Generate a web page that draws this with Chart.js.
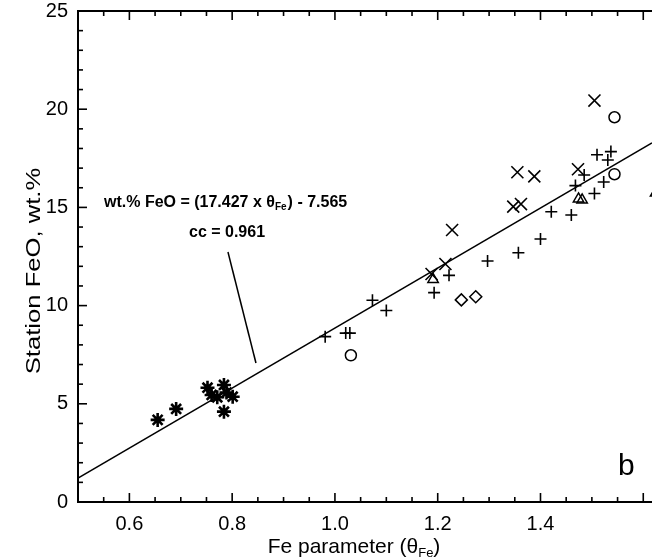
<!DOCTYPE html>
<html>
<head>
<meta charset="utf-8">
<script src="https://cdn.jsdelivr.net/npm/chart.js@4.4.1/dist/chart.umd.min.js"></script>
<style>
html, body { margin: 0; padding: 0; background: #fff; overflow: hidden; }
canvas { display: block; }
</style>
</head>
<body>
<canvas id="chart" width="652" height="559"></canvas>
<script>
// station FeO vs Fe parameter

const xTicks = [0.6, 0.8, 1.0, 1.2, 1.4];
const yTicks = [0, 5, 10, 15, 20, 25];

// "+" stations
const plusX = [0.981, 1.021, 1.029, 1.073, 1.100, 1.193, 1.222, 1.297, 1.357, 1.400, 1.421, 1.460, 1.468, 1.485, 1.505, 1.510, 1.523, 1.531, 1.537];
const plusY = [8.42, 8.60, 8.60, 10.27, 9.75, 10.66, 11.54, 12.27, 12.69, 13.39, 14.78, 14.61, 16.11, 16.65, 15.71, 17.68, 16.29, 17.41, 17.84];

// "x" stations
const crossX = [1.228, 1.188, 1.215, 1.347, 1.362, 1.355, 1.388, 1.473, 1.505];
const crossY = [13.85, 11.61, 12.12, 15.04, 15.17, 16.79, 16.58, 16.94, 20.44];

// open circles
const circleX = [1.031, 1.544, 1.544];
const circleY = [7.47, 19.59, 16.69];

// open diamonds
const diamondX = [1.246, 1.274];
const diamondY = [10.29, 10.45];

// open triangles
const triX = [1.191, 1.474, 1.481, 1.624];
const triY = [11.33, 15.43, 15.38, 15.73];

// asterisks
const starX = [0.655, 0.691, 0.752, 0.760, 0.771, 0.784, 0.789, 0.801, 0.784];
const starY = [4.18, 4.74, 5.82, 5.45, 5.33, 5.96, 5.57, 5.36, 4.60];

// fitted line as drawn (end points at the plot edges)
const fitX = [0.5, 1.617];
const fitY = [1.22, 18.28];

const xMin = 0.5, xMax = 1.617;
const yMin = 0, yMax = 25;

const FONT = '"Liberation Sans", Arial, Helvetica, sans-serif';

function pts(xs, ys) {
    return xs.map((v, i) => ({x: v, y: ys[i]}));
}

function markers(label, xs, ys, style, radius, width) {
    return {
        label: label,
        data: pts(xs, ys),
        pointStyle: style,
        pointRadius: radius,
        pointHoverRadius: radius,
        pointBorderWidth: width,
        borderColor: '#000',
        backgroundColor: 'rgba(0,0,0,0)',
        showLine: false
    };
}

// inward ticks, top frame line, axis titles and the note on the fit
const decorations = {
    id: 'decorations',
    afterDraw(chart) {
        const ctx = chart.ctx;
        const a = chart.chartArea;
        const x = chart.scales.x;
        const y = chart.scales.y;

        function seg(x1, y1, x2, y2) {
            ctx.beginPath();
            ctx.moveTo(x1, y1);
            ctx.lineTo(x2, y2);
            ctx.stroke();
        }

        ctx.save();
        ctx.strokeStyle = '#000';
        ctx.lineWidth = 2;
        seg(a.left - 1, a.top, a.right, a.top);

        ctx.lineWidth = 1.6;
        for (let i = 1; i < 25; i++) {
            const py = y.getPixelForValue(i);
            seg(a.left, py, a.left + (i % 5 === 0 ? 9 : 5), py);
        }
        for (let i = 11; i <= 32; i++) {
            const px = x.getPixelForValue(i * 0.05);
            const len = i % 4 === 0 ? 9 : 5;
            seg(px, a.bottom, px, a.bottom - len);
            seg(px, a.top, px, a.top + len);
        }

        // fit annotation
        ctx.fillStyle = '#000';
        ctx.textBaseline = 'middle';
        ctx.textAlign = 'left';
        let tx = x.getPixelForValue(0.5506);
        const ty = y.getPixelForValue(15.22);
        ctx.font = 'bold 16px ' + FONT;
        ctx.fillText('wt.% FeO = (17.427 x \u03b8', tx, ty);
        tx += ctx.measureText('wt.% FeO = (17.427 x \u03b8').width;
        ctx.font = 'bold 10px ' + FONT;
        ctx.fillText('Fe', tx, ty + 4);
        tx += ctx.measureText('Fe').width + 1;
        ctx.font = 'bold 16px ' + FONT;
        ctx.fillText(') - 7.565', tx, ty);

        ctx.fillText('cc = 0.961', x.getPixelForValue(0.716), y.getPixelForValue(13.7));

        ctx.lineWidth = 1.5;
        seg(x.getPixelForValue(0.7918), y.getPixelForValue(12.73),
            x.getPixelForValue(0.8463), y.getPixelForValue(7.08));

        // panel letter
        ctx.font = '30px ' + FONT;
        ctx.textBaseline = 'alphabetic';
        ctx.fillText('b', x.getPixelForValue(1.5506), y.getPixelForValue(1.375));

        // x axis title with subscript
        ctx.font = '21px ' + FONT;
        ctx.textBaseline = 'middle';
        const main = 'Fe parameter (\u03b8';
        const w1 = ctx.measureText(main).width;
        ctx.font = '13px ' + FONT;
        const w2 = ctx.measureText('Fe').width;
        ctx.font = '21px ' + FONT;
        const w3 = ctx.measureText(')').width;
        let sx = 354 - (w1 + w2 + w3) / 2;
        const sy = 547;
        ctx.fillText(main, sx, sy);
        sx += w1;
        ctx.font = '13px ' + FONT;
        ctx.fillText('Fe', sx, sy + 6);
        sx += w2;
        ctx.font = '21px ' + FONT;
        ctx.fillText(')', sx, sy);

        // y axis title (the scan is stretched vertically, so stretch it along its length)
        ctx.translate(34, 271);
        ctx.rotate(-Math.PI / 2);
        ctx.scale(1.22, 1);
        ctx.textAlign = 'center';
        ctx.font = '21px ' + FONT;
        ctx.fillText('Station FeO, wt.%', 0, 0);
        ctx.restore();
    }
};

const ctx = document.getElementById('chart').getContext('2d');
const myChart = new Chart(ctx, {
    type: 'scatter',
    data: {
        datasets: [
            {
                type: 'line',
                label: 'fit',
                data: pts(fitX, fitY),
                borderColor: '#000',
                borderWidth: 1.5,
                pointRadius: 0,
                fill: false
            },
            markers('plus', plusX, plusY, 'cross', 6, 1.6),
            markers('x', crossX, crossY, 'crossRot', 8.5, 1.6),
            markers('circle', circleX, circleY, 'circle', 5.5, 1.5),
            markers('diamond', diamondX, diamondY, 'rectRot', 6, 1.5),
            markers('triangle', triX, triY, 'triangle', 6, 1.5),
            markers('asterisk', starX, starY, 'star', 7, 2.6)
        ]
    },
    options: {
        responsive: false,
        animation: false,
        devicePixelRatio: 1,
        layout: { autoPadding: false, padding: { top: 11, left: 0, right: 0, bottom: 0 } },
        plugins: {
            legend: { display: false },
            tooltip: { enabled: false }
        },
        scales: {
            x: {
                type: 'linear',
                position: 'bottom',
                min: xMin,
                max: xMax,
                afterBuildTicks: s => { s.ticks = xTicks.map(v => ({value: v})); },
                afterFit: s => { s.height = 57; s.paddingLeft = 0; s.paddingRight = 0; },
                grid: { display: false, drawTicks: false },
                border: { display: true, color: '#000', width: 2 },
                ticks: {
                    color: '#000',
                    padding: 10,
                    maxRotation: 0,
                    font: { family: FONT, size: 20 },
                    callback: v => v.toFixed(1)
                }
            },
            y: {
                type: 'linear',
                min: yMin,
                max: yMax,
                afterBuildTicks: s => { s.ticks = yTicks.map(v => ({value: v})); },
                afterFit: s => { s.width = 78; s.paddingTop = 0; s.paddingBottom = 0; },
                grid: { display: false, drawTicks: false },
                border: { display: true, color: '#000', width: 2 },
                ticks: {
                    color: '#000',
                    padding: 10,
                    font: { family: FONT, size: 20 }
                }
            }
        }
    },
    plugins: [decorations]
});
</script>
</body>
</html>
